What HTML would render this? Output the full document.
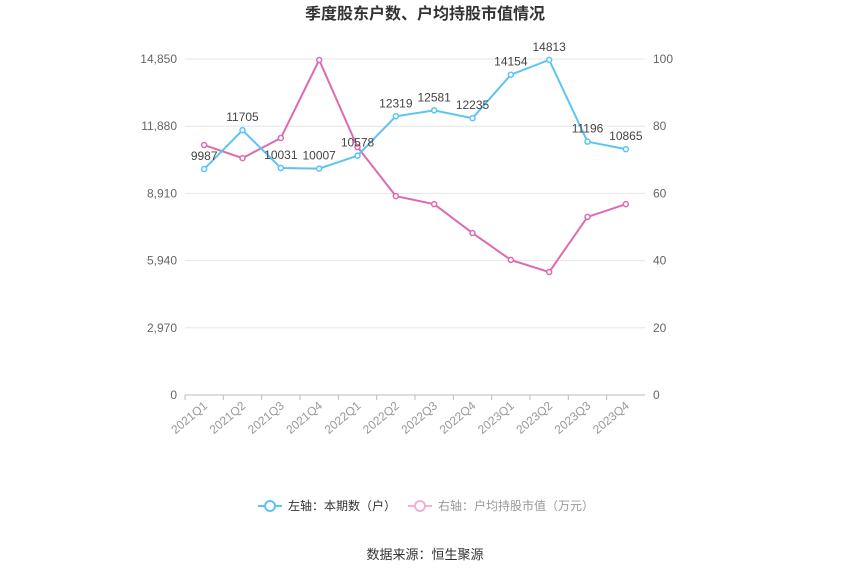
<!DOCTYPE html>
<html><head><meta charset="utf-8"><style>
body{margin:0;background:#fff;width:850px;height:575px;overflow:hidden;font-family:"Liberation Sans","Noto Sans CJK SC",sans-serif;}
</style></head><body>
<svg id="c" width="850" height="575" xmlns="http://www.w3.org/2000/svg"></svg>
<script>
const categories=["2021Q1","2021Q2","2021Q3","2021Q4","2022Q1","2022Q2","2022Q3","2022Q4","2023Q1","2023Q2","2023Q3","2023Q4"];
const households=[9987,11705,10031,10007,10578,12319,12581,12235,14154,14813,11196,10865];
const avgValue=[74.4,70.5,76.5,99.7,73.8,59.2,56.8,48.2,40.2,36.6,53,56.8];
const leftTicks=[0,2970,5940,8910,11880,14850];
const leftTickLabels=["0","2,970","5,940","8,910","11,880","14,850"];
const rightTicks=[0,20,40,60,80,100];
const L=185,R=645,T=59,B=395;
const svg=document.getElementById('c');
const NS="http://www.w3.org/2000/svg";
function el(t,a,txt){const e=document.createElementNS(NS,t);for(const k in a)e.setAttribute(k,a[k]);if(txt!=null)e.textContent=txt;svg.appendChild(e);return e;}
const step=(R-L)/categories.length;
const xs=i=>L+step*(i+0.5);
const yl=v=>B-(v/14850)*(B-T);
const yr=v=>B-(v/100)*(B-T);
let t=el('text',{x:425,y:19,'text-anchor':'middle','font-size':16,'font-weight':'bold',fill:'#333'},'季度股东户数、户均持股市值情况');


leftTicks.forEach((v,i)=>{
 const g=el('line',{x1:L,x2:R,y1:yl(v),y2:yl(v),stroke:i==0?'#bbb':'#e6e6e6','stroke-width':1});
 
 
 const a=el('text',{x:L-8,y:yl(v)+4,'text-anchor':'end','font-size':12,fill:'#666'},leftTickLabels[i]);
 
 
});
rightTicks.forEach(v=>{
 const a=el('text',{x:R+8,y:yr(v)+4,'text-anchor':'start','font-size':12,fill:'#666'},String(v));
 
 
});
categories.forEach((c,i)=>{
 const x=xs(i);
 const a=el('text',{x:x+4,y:B+12,'text-anchor':'end','font-size':12,fill:'#999',transform:`rotate(-40 ${x+4} ${B+12})`},c);
 
 
 const tk=el('line',{x1:L+step*i,x2:L+step*i,y1:B,y2:B+5,stroke:'#bbb'});
 
 
});
function series(vals,yf,color,name,labels){
 const p=el('polyline',{points:vals.map((v,i)=>xs(i)+','+yf(v)).join(' '),fill:'none',stroke:color,'stroke-width':2});
 
 
 vals.forEach((v,i)=>{
  const c=el('circle',{cx:xs(i),cy:yf(v),r:2.5,fill:'#fff',stroke:color,'stroke-width':1.5});
  
  
  if(labels){
   const l=el('text',{x:xs(i),y:yf(v)-9,'text-anchor':'middle','font-size':12,fill:'#444'},String(v));
   
   
  }
 });
}
series(avgValue,yr,'#dd6baf','avg-value',false);
series(households,yl,'#5bc4f5','households',true);
// legend
let g1=el('line',{x1:258,x2:282,y1:506,y2:506,stroke:'#5bc4f5','stroke-width':2});

let g2=el('circle',{cx:270,cy:506,r:5,fill:'#fff',stroke:'#5bc4f5','stroke-width':2});

let g3=el('text',{x:288,y:510,'font-size':12,fill:'#333'},'左轴：本期数（户）');

let g4=el('line',{x1:408,x2:432,y1:506,y2:506,stroke:'#f0b0d6','stroke-width':2});

let g5=el('circle',{cx:420,cy:506,r:5,fill:'#fff',stroke:'#f0b0d6','stroke-width':2});

let g6=el('text',{x:438,y:510,'font-size':12,fill:'#999'},'右轴：户均持股市值（万元）');

let s=el('text',{x:425,y:559,'text-anchor':'middle','font-size':13,fill:'#333'},'数据来源：恒生聚源');

</script>
</body></html>
